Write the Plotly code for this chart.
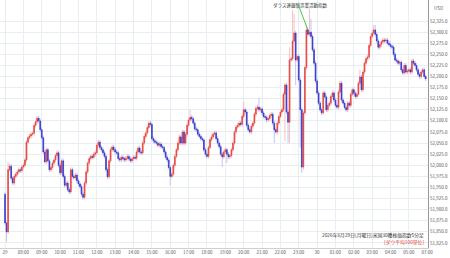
import plotly.graph_objects as go

# ---- data (5-minute candles, 07:00 on the 29th to 05:55 on the 30th) ----
tick_labels = ["29", "08:00", "09:00", "10:00", "11:00", "12:00", "13:00", "14:00",
               "15:00", "16:00", "17:00", "18:00", "19:00", "20:00", "21:00", "22:00",
               "23:00", "30", "01:00", "02:00", "03:00", "04:00", "05:00", "07:00"]
tick_index = list(range(0, 277, 12))
price_ticks = list(range(51825, 52326, 25))

first_open = 51935
closes = [
    51870, 51850, 51990, 51998, 51971, 51960, 51975, 51980, 51985, 51990,
    51988, 51996, 52000, 52012, 52052, 52062, 52066, 52070, 52072, 52090,
    52098, 52106, 52100, 52080, 52062, 52030, 52008, 52035, 52010, 51990,
    51995, 52005, 52012, 52022, 52028, 52000, 51983, 52010, 51975, 51955,
    51960, 51945, 51940, 51990, 51975, 51972, 51978, 51965, 51958, 51952,
    51935, 51928, 51960, 51985, 52005, 52015, 52020, 52018, 52025, 52028,
    52045, 52052, 52040, 52035, 52028, 52020, 51990, 51974, 52010, 52035,
    52041, 52035, 52030, 52028, 52015, 52012, 52018, 52015, 52012, 52016,
    52020, 52014, 52010, 52015, 52018, 52016, 52030, 52039, 52030, 52028,
    52050, 52065, 52073, 52085, 52095, 52092, 52060, 52055, 52052, 52050,
    52045, 52048, 52042, 52040, 52030, 52018, 52012, 51995, 51975, 51980,
    52000, 52020, 52035, 52050, 52064, 52050, 52075, 52050, 52070, 52090,
    52102, 52108, 52105, 52095, 52082, 52080, 52070, 52065, 52060, 52057,
    52035, 52025, 52020, 52040, 52058, 52064, 52070, 52073, 52060, 52050,
    52042, 52025, 52019, 52030, 52035, 52025, 52019, 52022, 52035, 52050,
    52075, 52086, 52090, 52095, 52092, 52110, 52125, 52120, 52090, 52080,
    52075, 52088, 52095, 52115, 52128, 52131, 52125, 52127, 52118, 52110,
    52108, 52102, 52105, 52112, 52115, 52095, 52080, 52075, 52095, 52110,
    52120, 52125, 52160, 52181, 52120, 52097, 52237, 52240, 52280, 52298,
    52237, 52245, 52192, 52125, 51996, 52118, 52220, 52305, 52295, 52300,
    52290, 52260, 52230, 52190, 52163, 52140, 52125, 52118, 52163, 52154,
    52125, 52135, 52140, 52155, 52163, 52147, 52135, 52131, 52165, 52185,
    52147, 52140, 52130, 52125, 52140, 52135, 52160, 52170, 52162, 52155,
    52160, 52185, 52199, 52170, 52210, 52230, 52240, 52244, 52270, 52290,
    52298, 52305, 52295, 52280, 52266, 52272, 52278, 52282, 52280, 52282,
    52275, 52272, 52268, 52266, 52250, 52237, 52235, 52230, 52232, 52215,
    52208, 52225, 52210, 52212, 52215, 52210, 52235, 52230, 52225, 52215,
    52205, 52200, 52210, 52215, 52200, 52195,
]
# notable wick extremes
high_marks = {2: 52007, 121: 52125, 156: 52143, 166: 52152, 186: 52266, 188: 52350,
              189: 52340, 192: 52250, 197: 52316, 199: 52352, 200: 52330, 232: 52215,
              241: 52316, 242: 52316}
low_marks = {1: 51828, 51: 51922, 108: 51955, 142: 51996, 145: 52005, 176: 52050,
             183: 52055, 185: 52050, 186: 52050, 190: 52180, 193: 52040, 194: 51983,
             195: 51990}
usual_wick = 5

opens = [first_open] + closes[:-1]
idx = list(range(len(closes)))
body_hi = [max(o, c) for o, c in zip(opens, closes)]
body_lo = [min(o, c) for o, c in zip(opens, closes)]
highs = [max(high_marks.get(i, body_hi[i] + usual_wick), body_hi[i]) for i in idx]
lows = [min(low_marks.get(i, body_lo[i] - usual_wick), body_lo[i]) for i in idx]

RED = "#e5443c"
BLUE = "#3434cf"
PINK = "#f2b0b0"
LAV = "#b4b6ec"
FONT = "Noto Sans CJK JP"

fig = go.Figure()
# wicks layer (light colours)
fig.add_trace(go.Candlestick(
    x=idx, open=opens, high=highs, low=lows, close=closes,
    increasing=dict(line=dict(color=PINK, width=0.8), fillcolor=PINK),
    decreasing=dict(line=dict(color=LAV, width=0.8), fillcolor=LAV),
    whiskerwidth=0, hoverinfo="skip", showlegend=False))
# bodies layer (strong colours)
fig.add_trace(go.Candlestick(
    x=idx, open=opens, high=body_hi, low=body_lo, close=closes,
    increasing=dict(line=dict(color=RED, width=0.6), fillcolor=RED),
    decreasing=dict(line=dict(color=BLUE, width=0.6), fillcolor=BLUE),
    whiskerwidth=0, showlegend=False))

fig.update_layout(
    width=450, height=258,
    margin=dict(l=0, r=22, t=0, b=10),
    paper_bgcolor="white", plot_bgcolor="white",
    font=dict(family=FONT, size=4.5, color="#444"),
    xaxis=dict(range=[-3.3, 276.5], rangeslider=dict(visible=False),
               tickmode="array", tickvals=tick_index, ticktext=tick_labels,
               showgrid=True, gridcolor="#e8edf2", gridwidth=1,
               showline=True, linecolor="#cfcfcf", linewidth=1,
               ticks="", tickfont=dict(size=4.5, color="#555"), zeroline=False),
    yaxis=dict(range=[51813.7, 52372.3], side="right",
               tickmode="array", tickvals=price_ticks, tickformat=",.1f",
               showgrid=True, gridcolor="#e8edf2", gridwidth=1,
               showline=True, linecolor="#9a9a9a", linewidth=1,
               ticks="", tickfont=dict(size=4.5, color="#555"), zeroline=False),
    hovermode=False,
)

fig.add_annotation(x=198, y=52305, xref="x", yref="y", text="", showarrow=True,
                   ax=-10, ay=-26, arrowhead=0, arrowwidth=1, arrowcolor="#3ccf3c",
                   standoff=0)
fig.add_annotation(x=192.5, y=1, xref="x", yref="paper", yanchor="top", text="ダラス連銀製造業活動指数",
                   showarrow=False, font=dict(size=4.5, color="#333"))
fig.add_annotation(x=1.0, y=1, xref="paper", yref="paper", xanchor="left", yanchor="top",
                   xshift=4, yshift=-3, text="USD", showarrow=False,
                   font=dict(size=4.5, color="#555"))
fig.add_annotation(x=1.0, y=0, xref="paper", yref="paper", xanchor="right", yanchor="bottom",
                   xshift=-2, yshift=7, text="2026年6月29日(月曜日)米国30種株価指数5分足",
                   showarrow=False, font=dict(size=4.8, color="#333"))
fig.add_annotation(x=1.0, y=0, xref="paper", yref="paper", xanchor="right", yanchor="bottom",
                   xshift=-2, yshift=0, text="[ダウ平均100単位]",
                   showarrow=False, font=dict(size=4.8, color="#e23b34"))

fig.write_html("out.html")
